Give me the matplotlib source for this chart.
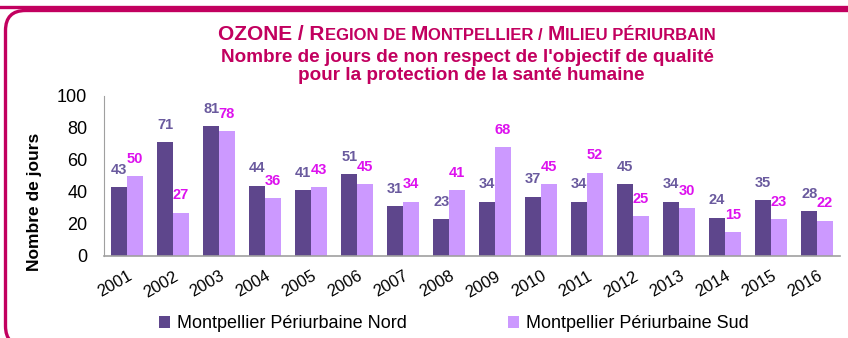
import numpy as np
import matplotlib.pyplot as plt
from matplotlib.patches import FancyBboxPatch

plt.rcParams['font.family'] = ['Liberation Sans', 'DejaVu Sans']

years = [str(y) for y in range(2001, 2017)]
nord = [43, 71, 81, 44, 41, 51, 31, 23, 34, 37, 34, 45, 34, 24, 35, 28]
sud = [50, 27, 78, 36, 43, 45, 34, 41, 68, 45, 52, 25, 30, 15, 23, 22]
series_names = ['Montpellier Périurbaine Nord', 'Montpellier Périurbaine Sud']

c_nord = '#5E468C'
c_sud = '#CC99FF'
c_lab_nord = '#6A5A9E'
c_lab_sud = '#DD11EE'
c_frame = '#C2005F'

W, H = 848, 338
fig = plt.figure(figsize=(W / 100, H / 100), dpi=100)

# background layer in pixel units for the rounded frames (y measured from the bottom)
bg = fig.add_axes([0, 0, 1, 1], zorder=-1)
bg.set_xlim(0, W)
bg.set_ylim(0, H)
bg.axis('off')
bg.add_patch(FancyBboxPatch((-60, H - 7.5), 1100, 80, boxstyle='round,pad=0,rounding_size=20',
                            fill=False, edgecolor=c_frame, linewidth=2.4))
bg.add_patch(FancyBboxPatch((5.5, -8), 1100, H - 10.5 + 8, boxstyle='round,pad=0,rounding_size=20',
                            fill=False, edgecolor=c_frame, linewidth=2.4))

ax = fig.add_axes([104 / W, (H - 256) / H, 736 / W, 160 / H])
x = np.arange(len(years))
bw = 0.34
b1 = ax.bar(x - bw / 2, nord, bw, color=c_nord, label=series_names[0])
b2 = ax.bar(x + bw / 2, sud, bw, color=c_sud, label=series_names[1])

for xi, v in zip(x, nord):
    ax.annotate(str(v), (xi - bw / 2, v), xytext=(0, 7.5), textcoords='offset points',
                ha='center', va='bottom', fontsize=10.5, fontweight='bold', color=c_lab_nord)
for xi, v in zip(x, sud):
    ax.annotate(str(v), (xi + bw / 2, v), xytext=(0, 7.5), textcoords='offset points',
                ha='center', va='bottom', fontsize=10.5, fontweight='bold', color=c_lab_sud)

ax.set_xlim(-0.5, len(years) - 0.5)
ax.set_ylim(0, 100)
ax.set_yticks(range(0, 101, 20))
ax.set_xticks(x)
ax.set_xticklabels(years, rotation=30, ha='right', rotation_mode='anchor', fontsize=12)
ax.tick_params(axis='y', labelsize=13, length=0, pad=12)
ax.tick_params(axis='x', length=0, pad=9)
for s in ['top', 'right']:
    ax.spines[s].set_visible(False)
ax.spines['left'].set_color('#A0A0A0')
ax.spines['bottom'].set_color('#A0A0A0')
ax.spines['bottom'].set_linewidth(1.2)
ax.set_ylabel('Nombre de jours', fontsize=12.5, fontweight='bold')
ax.yaxis.set_label_coords(-62 / 736, 0.34)

fig.legend(handles=[b1, b2], loc='center left', bbox_to_anchor=(152 / W, 1 - 324 / H),
           ncol=2, frameon=False, fontsize=13, handlelength=0.6, handleheight=0.6,
           handletextpad=0.4, columnspacing=5.6, borderaxespad=0)

# first title line in small capitals, drawn piece by piece
pieces = [('OZONE / R', 15), ('EGION DE ', 12), ('M', 15), ('ONTPELLIER / ', 12),
          ('M', 15), ('ILIEU PÉRIURBAIN', 12)]
renderer = fig.canvas.get_renderer()
texts = []
xpos = 0
for s, fs in pieces:
    t = fig.text(xpos, 1 - 39.5 / H, s, fontsize=fs, fontweight='bold', color=c_frame,
                 ha='left', va='baseline')
    w = t.get_window_extent(renderer).width / W
    texts.append((t, w))
    xpos += w
start = 467 / W - xpos / 2
for t, w in texts:
    t.set_x(start)
    start += w

fig.text(467 / W, 1 - 61.5 / H, "Nombre de jours de non respect de l'objectif de qualité",
         fontsize=13.6, fontweight='bold', color=c_frame, ha='center', va='baseline')
fig.text(471 / W, 1 - 80.5 / H, 'pour la protection de la santé humaine',
         fontsize=13.6, fontweight='bold', color=c_frame, ha='center', va='baseline')

fig.savefig('out.png', dpi=100)
